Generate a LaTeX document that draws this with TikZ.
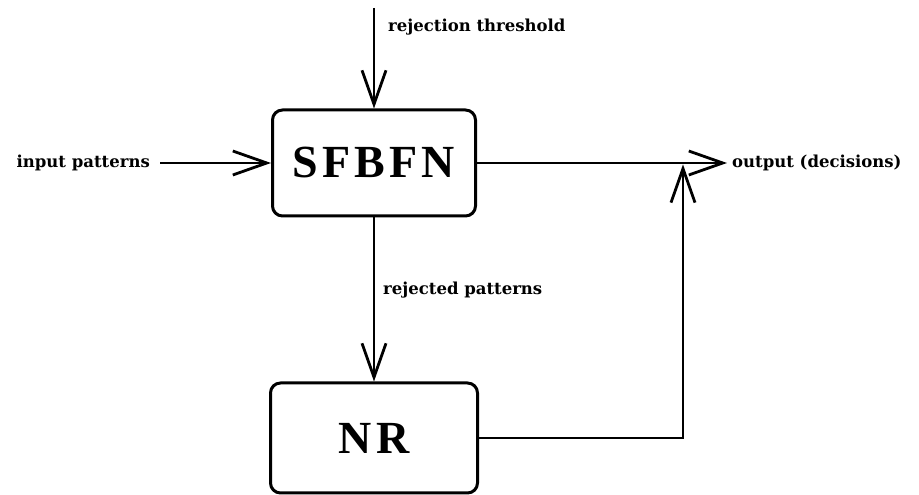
\documentclass[tikz,border=0pt]{standalone}
\usepackage{fontspec}
\setmainfont{Liberation Serif}
\newfontfamily\labelfont{DejaVu Serif}
\newfontfamily\blockfont[LetterSpace=9]{Liberation Serif}
\usetikzlibrary{arrows.meta}
\usetikzlibrary{positioning}

\tikzset{block/.style = {draw, line width=3pt, rounded corners=10pt,
                         font=\blockfont\fontsize{46}{48}\selectfont\bfseries},
         lbl/.style   = {inner sep=0pt, anchor=west,
                         font=\labelfont\fontsize{16.5}{18}\selectfont\bfseries},
         flow/.style  = {line width=2.8pt,
                         -{Straight Barb[length=34pt, width=24pt, line width=2.8pt]}}}

\begin{document}
\begin{tikzpicture}[x=1pt, y=1pt]
  \useasboundingbox (0,0) rectangle (919,495);

  \node[block, minimum width=203pt, minimum height=106pt] (sf) at (374,332) {SFBFN};
  \node[block, minimum width=207pt, minimum height=110pt] (nr) at (374,57) {NR};

  \coordinate (thr) at (374,487);
  \coordinate (join) at (683,332);
  \coordinate (instart) at (160,332);

  \node[lbl] (thrlab) at (388,468) {rejection threshold};
  \node[lbl, anchor=east] (inlab) at (150,332) {input patterns};
  \node[lbl] (outlab) at (732,332) {output (decisions)};
  \node[lbl] (rejlab) at (383,205) {rejected patterns};

  \draw[flow] (thr) -- (sf.north);
  \draw[flow] (instart) -- (sf.west);
  \draw[flow, shorten >=5pt] (sf.east) -- (outlab.west);
  \draw[flow] (sf.south) -- (nr.north);
  \draw[flow, shorten >=1.4pt] (nr.east) -| (join);
\end{tikzpicture}
\end{document}
